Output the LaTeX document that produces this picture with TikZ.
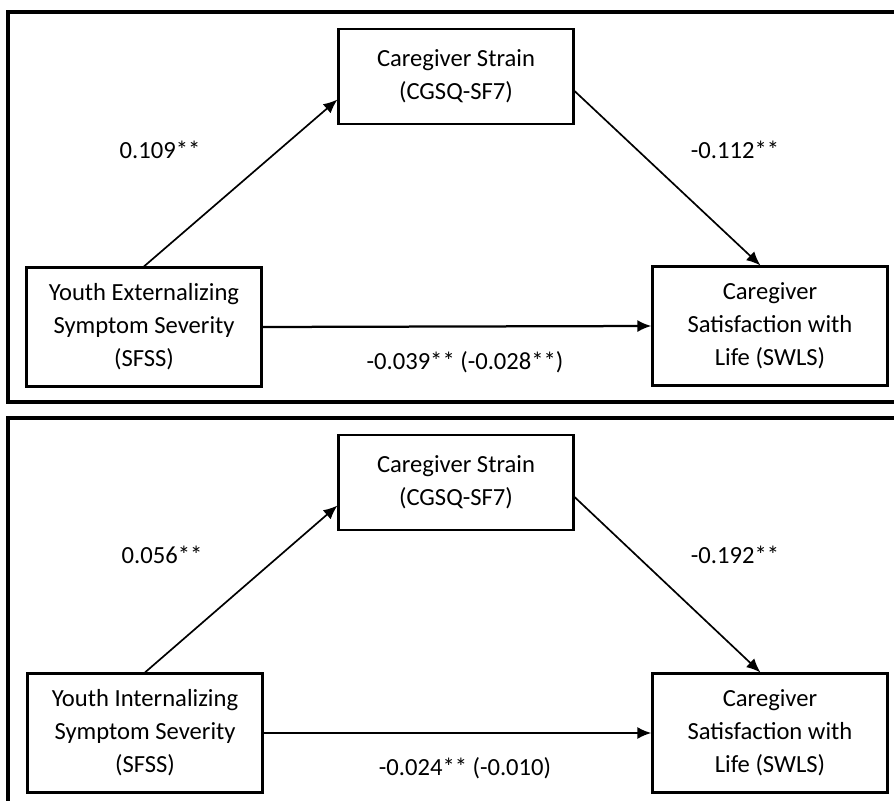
\documentclass[tikz,border=0pt]{standalone}
\usepackage{fontspec}
\setmainfont{Carlito}
\usetikzlibrary{arrows.meta}

\tikzset{
  varbox/.style={draw, line width=1.5pt, align=center, inner sep=2pt,
    minimum width=5.875cm, font=\fontsize{17.5}{23.4}\selectfont},
  effect/.style={-{Latex[length=3.5mm,width=3mm]}, line width=1.2pt},
  coef/.style={font=\fontsize{17.5}{21}\selectfont},
  panel/.style={line width=2.5pt}
}

\begin{document}
\begin{tikzpicture}[x=0.025cm,y=-0.025cm]
    \useasboundingbox (0,0) rectangle (894,801);

    % externalizing model
    \draw[panel] (894,12) -- (8,12) -- (8,402) -- (894,402);
    \node[varbox, minimum height=2.375cm] (strainA) at (456,76.5) {Caregiver Strain\\(CGSQ-SF7)};
    \node[varbox, minimum height=2.975cm] (youthA) at (144,327) {Youth Externalizing\\Symptom Severity\\(SFSS)};
    \node[varbox, minimum height=2.975cm] (lifeA) at (770,326) {Caregiver\\Satisfaction with\\Life (SWLS)};
    \draw[effect] (youthA.north) -- (strainA.191);
    \draw[effect] (strainA.353) -- (lifeA.99);
    \draw[effect, line width=1.6pt] (youthA.east) -- (lifeA.west);
    \node[coef] (aA) at (160,150) {0.109**};
    \node[coef] (bA) at (735,150) {-0.112**};
    \node[coef] (cA) at (465,362) {-0.039** (-0.028**)};

    % internalizing model
    \begin{scope}[shift={(0,406)}]
    \draw[panel] (894,12) -- (8,12) -- (8,395);
    \node[varbox, minimum height=2.375cm] (strainB) at (456,76.5) {Caregiver Strain\\(CGSQ-SF7)};
    \node[varbox, minimum height=2.975cm] (youthB) at (145,327) {Youth Internalizing\\Symptom Severity\\(SFSS)};
    \node[varbox, minimum height=2.975cm] (lifeB) at (770,327) {Caregiver\\Satisfaction with\\Life (SWLS)};
    \draw[effect] (youthB.north) -- (strainB.191);
    \draw[effect] (strainB.353) -- (lifeB.99);
    \draw[effect, line width=1.6pt] (youthB.east) -- (lifeB.west);
    \node[coef] (aB) at (162,149) {0.056**};
    \node[coef] (bB) at (735,149) {-0.192**};
    \node[coef] (cB) at (465,362) {-0.024** (-0.010)};
    \end{scope}
\end{tikzpicture}
\end{document}
